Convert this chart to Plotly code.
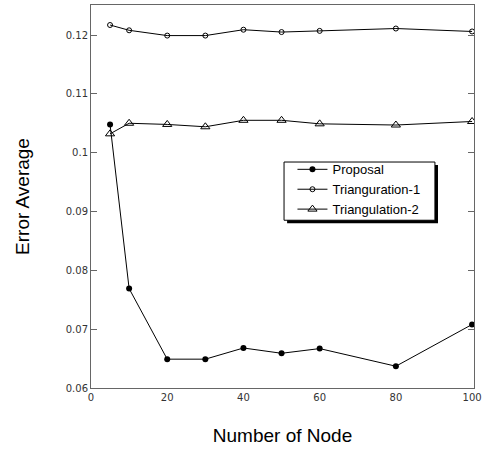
import plotly.graph_objects as go

nodes = [5, 10, 20, 30, 40, 50, 60, 80, 100]
proposal = [0.1048, 0.0769, 0.0649, 0.0649, 0.0668, 0.0659, 0.0667, 0.0637, 0.0708]
tri1 = [0.1217, 0.1208, 0.1199, 0.1199, 0.1209, 0.1205, 0.1207, 0.1211, 0.1206]
tri2 = [0.1032, 0.1050, 0.1048, 0.1044, 0.1055, 0.1055, 0.1049, 0.1047, 0.1053]

x_ticks = [0, 20, 40, 60, 80, 100]
y_ticks = [0.06, 0.07, 0.08, 0.09, 0.1, 0.11, 0.12]
y_labels = ["0.06", "0.07", "0.08", "0.09", "0.1", "0.11", "0.12"]

fig = go.Figure()
fig.add_trace(go.Scatter(x=nodes, y=proposal, name="Proposal", mode="lines+markers",
                         line=dict(color="black", width=1),
                         marker=dict(symbol="circle", size=6, color="black")))
fig.add_trace(go.Scatter(x=nodes, y=tri1, name="Trianguration-1", mode="lines+markers",
                         line=dict(color="black", width=1),
                         marker=dict(symbol="circle-open", size=5, color="black", line=dict(width=1))))
fig.add_trace(go.Scatter(x=nodes, y=tri2, name="Triangulation-2", mode="lines+markers",
                         line=dict(color="black", width=1),
                         marker=dict(symbol="triangle-up-open", size=8, color="black", line=dict(width=1))))

# legend shadow and box
fig.add_shape(type="rect", xref="paper", yref="paper",
              x0=0.512, x1=0.906, y0=0.430, y1=0.582,
              fillcolor="black", line=dict(width=0), layer="above")
fig.add_shape(type="rect", xref="paper", yref="paper",
              x0=0.504, x1=0.898, y0=0.438, y1=0.590,
              fillcolor="white", line=dict(color="black", width=1), layer="above")

fig.update_layout(
    width=484, height=450,
    margin=dict(l=91, r=10, t=5, b=62),
    paper_bgcolor="white", plot_bgcolor="white",
    showlegend=True,
    legend=dict(x=0.526, y=0.610, xanchor="left", yanchor="top",
                bgcolor="rgba(0,0,0,0)", borderwidth=0,
                font=dict(family="Liberation Sans", size=13, color="black"),
                tracegroupgap=0, itemsizing="trace"),
    xaxis=dict(range=[0, 100.5], tickvals=x_ticks, showgrid=False, zeroline=False,
               showline=True, linecolor="#666", linewidth=1, mirror=True, automargin=False,
               ticks="", tickfont=dict(family="DejaVu Sans", size=10, color="#333"),
               title=dict(text="Number of Node", font=dict(family="Liberation Sans", size=19, color="black"),
                          standoff=26)),
    yaxis=dict(range=[0.06, 0.1251], tickvals=y_ticks, ticktext=y_labels, showgrid=False, zeroline=False,
               showline=True, linecolor="#666", linewidth=1, mirror="ticks", automargin=False,
               ticks="inside", ticklen=6, tickcolor="#666",
               tickfont=dict(family="DejaVu Sans", size=10, color="#333"),
               title=dict(text="Error Average", font=dict(family="Liberation Sans", size=19, color="black"),
                          standoff=31)),
)

fig.write_html("out.html", config={"displayModeBar": False},
               post_script="document.body.style.margin='0';")
